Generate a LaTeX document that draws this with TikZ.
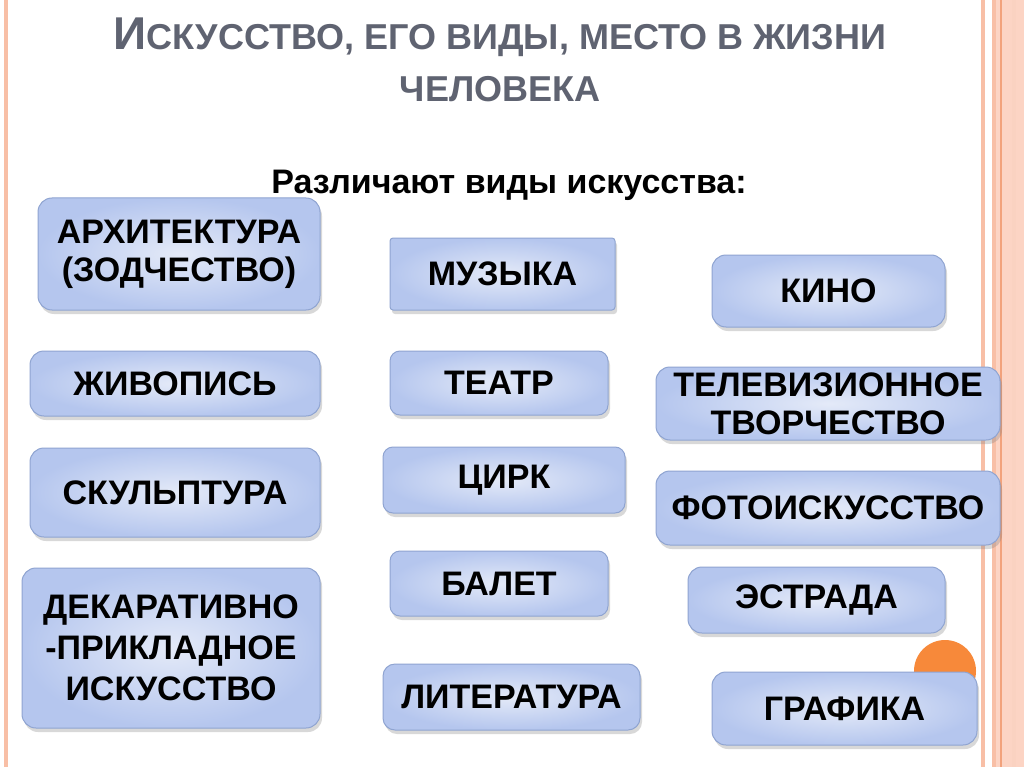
\documentclass[tikz,border=0pt]{standalone}
\usepackage{fontspec}
\setmainfont{Liberation Sans}
\usetikzlibrary{shadows}

\definecolor{titlegrey}{HTML}{5F6371}
\definecolor{boxin}{HTML}{E4EAF8}
\definecolor{boxout}{HTML}{B5C6EE}
\definecolor{boxedge}{HTML}{8FA4D1}
\definecolor{frameline}{HTML}{F8BFA6}
\definecolor{band}{HTML}{FCD4C4}
\definecolor{bandline}{HTML}{F2A27C}
\definecolor{dot}{HTML}{F7893A}

\newcommand{\boxfont}{\bfseries\fontsize{34}{38}\selectfont}

\begin{document}
\begin{tikzpicture}[
    x=1pt, y=-1pt,
    kind/.style={draw=boxedge, line width=1pt, rounded corners=14pt,
                 inner color=boxin, outer color=boxout,
                 drop shadow={opacity=0.3, shadow xshift=2pt, shadow yshift=-4pt},
                 align=center, font=\boxfont, text=black, inner sep=0pt},
    heading/.style={font=\bfseries, text=titlegrey, inner sep=0pt}
]
\useasboundingbox (0,0) rectangle (1024,767);
\fill[white] (0,0) rectangle (1024,767);

% --- Frame ---
\fill[frameline] (4,0) rectangle (8,767);
\fill[frameline] (981,0) rectangle (985,767);
\fill[band] (992,0) rectangle (1024,767);
\fill[frameline] (992,0) rectangle (996,767);
\fill[bandline] (1000,0) rectangle (1001.5,767);
\fill[frameline!70] (1012,0) rectangle (1016,767);

% --- Title ---
\node[heading, anchor=base] (title1) at (500,50)
    {\fontsize{46}{46}\selectfont И\fontsize{36}{36}\selectfont СКУССТВО, ЕГО ВИДЫ, МЕСТО В ЖИЗНИ};
\node[heading, anchor=base] (title2) at (500,102)
    {\fontsize{36}{36}\selectfont ЧЕЛОВЕКА};
\node[font=\bfseries\fontsize{34}{34}\selectfont, anchor=base, inner sep=0pt] (sub) at (509,194)
    {Различают виды искусства:};

% --- Orange dot ---
\fill[dot] (945,671) circle (31);

% --- Left column ---
\node[kind, minimum width=282, minimum height=112] (arch) at (179,254) {АРХИТЕКТУРА\\(ЗОДЧЕСТВО)};
\node[kind, minimum width=290, minimum height=65] (paint) at (175,383.5) {ЖИВОПИСЬ};
\node[kind, minimum width=290, minimum height=89] (sculpt) at (175,492.5) {СКУЛЬПТУРА};
\node[kind, minimum width=298, minimum height=160, font=\bfseries\fontsize{34}{41}\selectfont] (decor) at (171,648)
    {ДЕКАРАТИВНО\\-ПРИКЛАДНОЕ\\ИСКУССТВО};

% --- Middle column ---
\node[kind, rounded corners=3pt, minimum width=225, minimum height=72] (music) at (502.5,274) {МУЗЫКА};
\node[kind, rounded corners=10pt, minimum width=218, minimum height=64] (theatre) at (499,383) {ТЕАТР};
\node[kind, rounded corners=10pt, minimum width=242, minimum height=66] (circus) at (504,480) {ЦИРК};
\node[kind, rounded corners=10pt, minimum width=218, minimum height=65] (ballet) at (499,583.5) {БАЛЕТ};
\node[kind, rounded corners=12pt, minimum width=257, minimum height=66] (lit) at (511.5,697) {ЛИТЕРАТУРА};

% --- Right column ---
\node[kind, minimum width=233, minimum height=72] (cinema) at (828.5,291) {КИНО};
\node[kind, minimum width=344, minimum height=73] (tv) at (828,403.5) {ТЕЛЕВИЗИОННОЕ\\ТВОРЧЕСТВО};
\node[kind, minimum width=344, minimum height=74] (photo) at (828,508) {ФОТОИСКУССТВО};
\node[kind, minimum width=257, minimum height=66] (stage) at (816.5,600) {ЭСТРАДА};
\node[kind, minimum width=265, minimum height=73] (graphic) at (844.5,708.5) {ГРАФИКА};

\end{tikzpicture}
\end{document}
